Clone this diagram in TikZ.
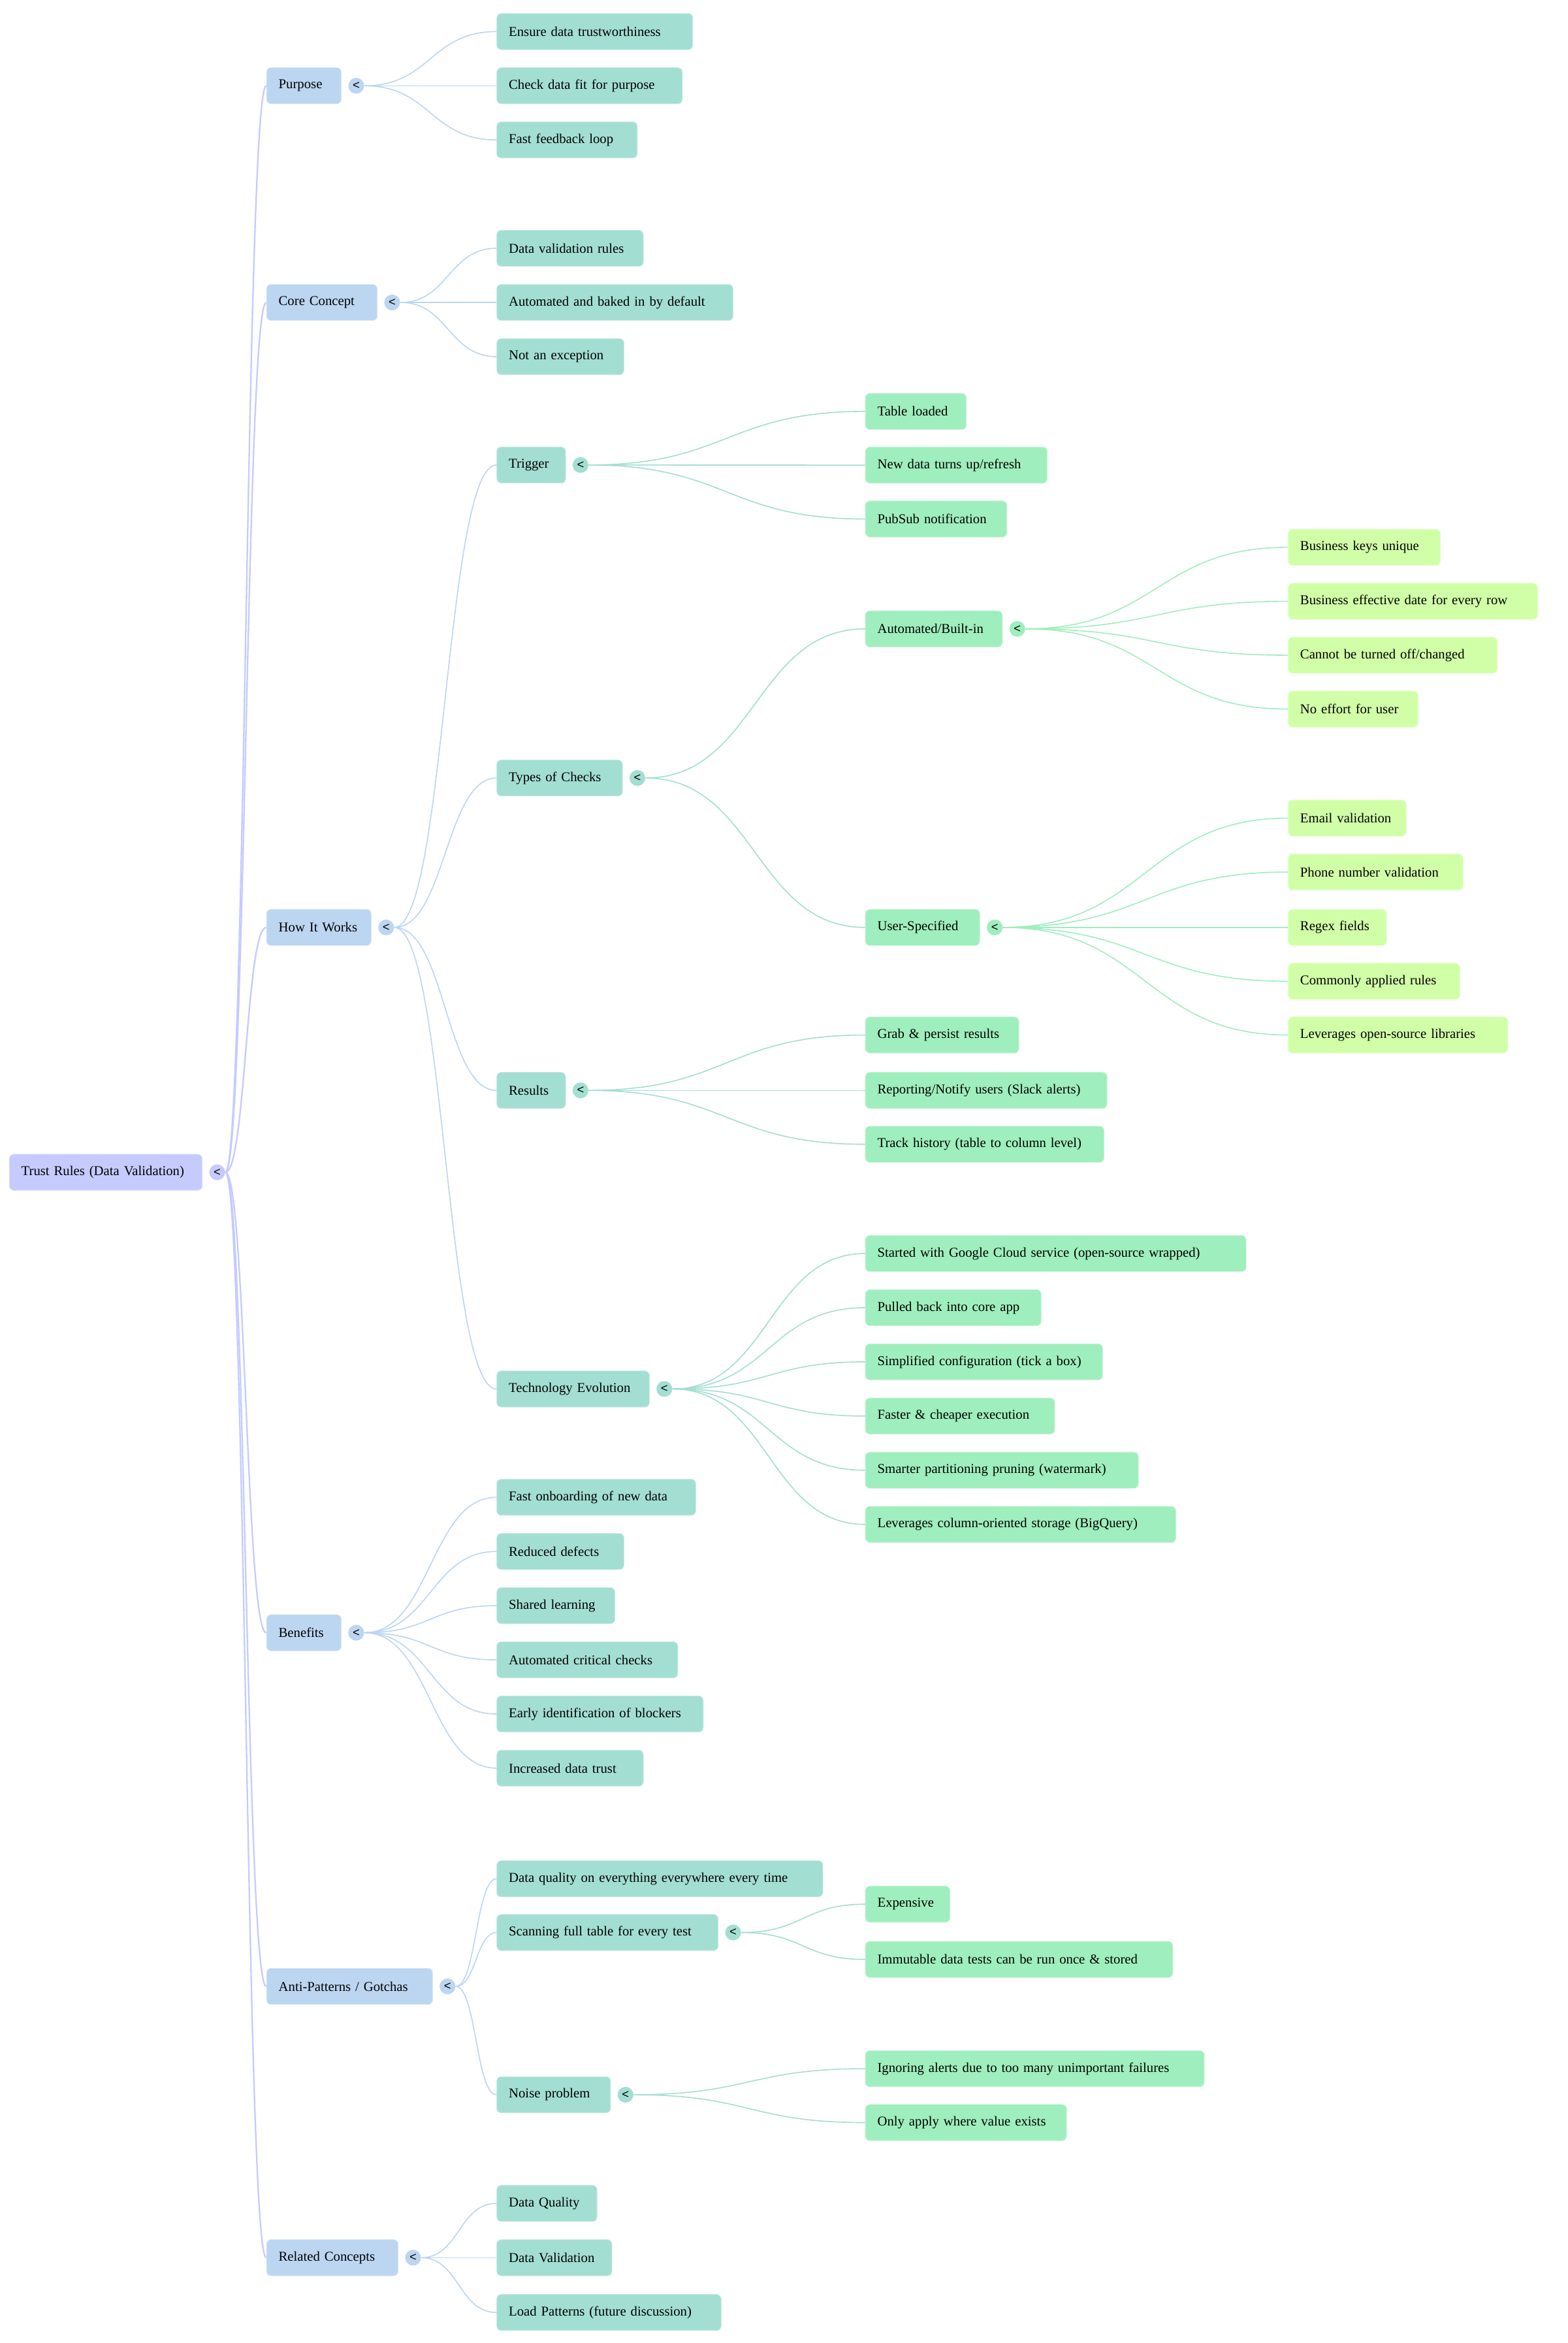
\documentclass[tikz,border=0pt]{standalone}
\usepackage{fontspec}
\setmainfont{Liberation Serif}
\setsansfont{Liberation Sans}
\usetikzlibrary{positioning,calc}
\definecolor{cRoot}{HTML}{C5CBFF}
\definecolor{cOne}{HTML}{BCD5F0}
\definecolor{cTwo}{HTML}{A3DED2}
\definecolor{cThree}{HTML}{9FEEBD}
\definecolor{cFour}{HTML}{D1FFA8}
\tikzset{
	mm/.style={rounded corners=3pt, anchor=west, draw=#1!60!white, fill=#1, line width=0.4pt,
		inner xsep=8pt, inner ysep=0pt, minimum height=24pt, align=left, font=\fontsize{9}{11}\selectfont},
	ind/.style={circle, fill=#1, inner sep=0pt, minimum size=10.5pt, font=\sffamily\fontsize{8}{8}\selectfont},
	br/.style={draw=#1, line width=0.7pt,
		to path={let \p1=(\tikztostart), \p2=(\tikztotarget) in
			.. controls ({(\x1+\x2)/2},\y1) and ({(\x1+\x2)/2},\y2) .. (\tikztotarget)}}
}
\begin{document}
\begin{tikzpicture}[x=1pt,y=-1pt]
	\path[use as bounding box, fill=white] (0,0) rectangle (1042,1557);
	% root
	\node (root) at (6,779)	[mm=cRoot, text width=112.2pt]	{Trust Rules (Data Validation)};
	\node (rootI) [ind=cRoot, right=4.3pt of root] {<};
	% first level
	\node (pur) at (177,57)		[mm=cOne, text width=33.6pt]	{Purpose};
	\node (core) at (177,201)	[mm=cOne, text width=57.5pt]	{Core Concept};
	\node (how) at (177,616.3)	[mm=cOne, text width=53.5pt]	{How It Works};
	\node (ben) at (177,1085)	[mm=cOne, text width=33.6pt]	{Benefits};
	\node (anti) at (177,1320)	[mm=cOne, text width=94.3pt]	{Anti-Patterns / Gotchas};
	\node (rel) at (177,1500.3)	[mm=cOne, text width=71.4pt]	{Related Concepts};
	\node (purI) [ind=cOne, right=4.3pt of pur] {<};
	\node (coreI) [ind=cOne, right=4.3pt of core] {<};
	\node (howI) [ind=cOne, right=4.3pt of how] {<};
	\node (benI) [ind=cOne, right=4.3pt of ben] {<};
	\node (antiI) [ind=cOne, right=4.3pt of anti] {<};
	\node (relI) [ind=cOne, right=4.3pt of rel] {<};
	% second level
	\node (pur1) at (330,21)	[mm=cTwo, text width=114.2pt]	{Ensure data trustworthiness};
	\node (pur2) at (330,57)	[mm=cTwo, text width=107.3pt]	{Check data fit for purpose};
	\node (pur3) at (330,93)	[mm=cTwo, text width=77.4pt]	{Fast feedback loop};
	\node (core1) at (330,165)	[mm=cTwo, text width=81.4pt]	{Data validation rules};
	\node (core2) at (330,201)	[mm=cTwo, text width=141pt]	{Automated and baked in by default};
	\node (core3) at (330,237)	[mm=cTwo, text width=68.5pt]	{Not an exception};
	\node (trig) at (330,309)	[mm=cTwo, text width=29.7pt]	{Trigger};
	\node (types) at (330,517)	[mm=cTwo, text width=67.5pt]	{Types of Checks};
	\node (res) at (330,724.6)	[mm=cTwo, text width=29.7pt]	{Results};
	\node (tech) at (330,923)	[mm=cTwo, text width=85.4pt]	{Technology Evolution};
	\node (ben1) at (330,995)	[mm=cTwo, text width=116.2pt]	{Fast onboarding of new data};
	\node (ben2) at (330,1031)	[mm=cTwo, text width=68.5pt]	{Reduced defects};
	\node (ben3) at (330,1067)	[mm=cTwo, text width=62.5pt]	{Shared learning};
	\node (ben4) at (330,1103)	[mm=cTwo, text width=104.3pt]	{Automated critical checks};
	\node (ben5) at (330,1139)	[mm=cTwo, text width=121.2pt]	{Early identification of blockers};
	\node (ben6) at (330,1175)	[mm=cTwo, text width=81.4pt]	{Increased data trust};
	\node (anti1) at (330,1248.5)	[mm=cTwo, text width=200.7pt]	{Data quality on everything everywhere every time};
	\node (scan) at (330,1284.2)	[mm=cTwo, text width=131.1pt]	{Scanning full table for every test};
	\node (noise) at (330,1392)	[mm=cTwo, text width=59.6pt]	{Noise problem};
	\node (rel1) at (330,1464.2)	[mm=cTwo, text width=50.6pt]	{Data Quality};
	\node (rel2) at (330,1500.3)	[mm=cTwo, text width=60.5pt]	{Data Validation};
	\node (rel3) at (330,1536.7)	[mm=cTwo, text width=133.1pt]	{Load Patterns (future discussion)};
	\node (trigI) [ind=cTwo, right=4.3pt of trig] {<};
	\node (typesI) [ind=cTwo, right=4.3pt of types] {<};
	\node (resI) [ind=cTwo, right=4.3pt of res] {<};
	\node (techI) [ind=cTwo, right=4.3pt of tech] {<};
	\node (scanI) [ind=cTwo, right=4.3pt of scan] {<};
	\node (noiseI) [ind=cTwo, right=4.3pt of noise] {<};
	% third level
	\node (trig1) at (575,273.4)	[mm=cThree, text width=51.1pt]	{Table loaded};
	\node (trig2) at (575,309.1)	[mm=cThree, text width=104.8pt]	{New data turns up/refresh};
	\node (trig3) at (575,344.9)	[mm=cThree, text width=78pt]	{PubSub notification};
	\node (auto) at (575,417.9)	[mm=cThree, text width=75pt]	{Automated/Built-in};
	\node (user) at (575,616.3)	[mm=cThree, text width=60pt]	{User-Specified};
	\node (res1) at (575,687.8)	[mm=cThree, text width=86pt]	{Grab \& persist results};
	\node (res2) at (575,724.6)	[mm=cThree, text width=144.6pt]	{Reporting/Notify users (Slack alerts)};
	\node (res3) at (575,760.4)	[mm=cThree, text width=142.6pt]	{Track history (table to column level)};
	\node (tech1) at (575,833)	[mm=cThree, text width=237pt]	{Started with Google Cloud service (open-source wrapped)};
	\node (tech2) at (575,869)	[mm=cThree, text width=100.8pt]	{Pulled back into core app};
	\node (tech3) at (575,905)	[mm=cThree, text width=141.6pt]	{Simplified configuration (tick a box)};
	\node (tech4) at (575,941)	[mm=cThree, text width=109.8pt]	{Faster \& cheaper execution};
	\node (tech5) at (575,977)	[mm=cThree, text width=165.4pt]	{Smarter partitioning pruning (watermark)};
	\node (tech6) at (575,1013)	[mm=cThree, text width=190.3pt]	{Leverages column-oriented storage (BigQuery)};
	\node (scan1) at (575,1265.4)	[mm=cThree, text width=40.2pt]	{Expensive};
	\node (scan2) at (575,1302.1)	[mm=cThree, text width=188.3pt]	{Immutable data tests can be run once \& stored};
	\node (noise1) at (575,1374.7)	[mm=cThree, text width=209.2pt]	{Ignoring alerts due to too many unimportant failures};
	\node (noise2) at (575,1410.5)	[mm=cThree, text width=117.7pt]	{Only apply where value exists};
	\node (autoI) [ind=cThree, right=4.3pt of auto] {<};
	\node (userI) [ind=cThree, right=4.3pt of user] {<};
	% fourth level
	\node (auto1) at (856,363.7)	[mm=cFour, text width=85.2pt]	{Business keys unique};
	\node (auto2) at (856,399.6)	[mm=cFour, text width=149.8pt]	{Business effective date for every row};
	\node (auto3) at (856,435.4)	[mm=cFour, text width=123pt]	{Cannot be turned off/changed};
	\node (auto4) at (856,471.2)	[mm=cFour, text width=70.3pt]	{No effort for user};
	\node (user1) at (856,543.7)	[mm=cFour, text width=62.4pt]	{Email validation};
	\node (user2) at (856,579.5)	[mm=cFour, text width=100.1pt]	{Phone number validation};
	\node (user3) at (856,616.3)	[mm=cFour, text width=49.4pt]	{Regex fields};
	\node (user4) at (856,652.1)	[mm=cFour, text width=98.1pt]	{Commonly applied rules};
	\node (user5) at (856,687.8)	[mm=cFour, text width=130pt]	{Leverages open-source libraries};
	% branches
	\draw[br=cRoot, line width=1pt] (rootI.east) to (pur.west);
	\draw[br=cRoot, line width=1pt] (rootI.east) to (core.west);
	\draw[br=cRoot, line width=1pt] (rootI.east) to (how.west);
	\draw[br=cRoot, line width=1pt] (rootI.east) to (ben.west);
	\draw[br=cRoot, line width=1pt] (rootI.east) to (anti.west);
	\draw[br=cRoot, line width=1pt] (rootI.east) to (rel.west);
	\draw[br=cOne] (purI.east) to (pur1.west);
	\draw[br=cOne] (purI.east) to (pur2.west);
	\draw[br=cOne] (purI.east) to (pur3.west);
	\draw[br=cOne] (coreI.east) to (core1.west);
	\draw[br=cOne] (coreI.east) to (core2.west);
	\draw[br=cOne] (coreI.east) to (core3.west);
	\draw[br=cOne] (howI.east) to (trig.west);
	\draw[br=cOne] (howI.east) to (types.west);
	\draw[br=cOne] (howI.east) to (res.west);
	\draw[br=cOne] (howI.east) to (tech.west);
	\draw[br=cOne] (benI.east) to (ben1.west);
	\draw[br=cOne] (benI.east) to (ben2.west);
	\draw[br=cOne] (benI.east) to (ben3.west);
	\draw[br=cOne] (benI.east) to (ben4.west);
	\draw[br=cOne] (benI.east) to (ben5.west);
	\draw[br=cOne] (benI.east) to (ben6.west);
	\draw[br=cOne] (antiI.east) to (anti1.west);
	\draw[br=cOne] (antiI.east) to (scan.west);
	\draw[br=cOne] (antiI.east) to (noise.west);
	\draw[br=cOne] (relI.east) to (rel1.west);
	\draw[br=cOne] (relI.east) to (rel2.west);
	\draw[br=cOne] (relI.east) to (rel3.west);
	\draw[br=cTwo] (trigI.east) to (trig1.west);
	\draw[br=cTwo] (trigI.east) to (trig2.west);
	\draw[br=cTwo] (trigI.east) to (trig3.west);
	\draw[br=cTwo] (typesI.east) to (auto.west);
	\draw[br=cTwo] (typesI.east) to (user.west);
	\draw[br=cTwo] (resI.east) to (res1.west);
	\draw[br=cTwo] (resI.east) to (res2.west);
	\draw[br=cTwo] (resI.east) to (res3.west);
	\draw[br=cTwo] (techI.east) to (tech1.west);
	\draw[br=cTwo] (techI.east) to (tech2.west);
	\draw[br=cTwo] (techI.east) to (tech3.west);
	\draw[br=cTwo] (techI.east) to (tech4.west);
	\draw[br=cTwo] (techI.east) to (tech5.west);
	\draw[br=cTwo] (techI.east) to (tech6.west);
	\draw[br=cTwo] (scanI.east) to (scan1.west);
	\draw[br=cTwo] (scanI.east) to (scan2.west);
	\draw[br=cTwo] (noiseI.east) to (noise1.west);
	\draw[br=cTwo] (noiseI.east) to (noise2.west);
	\draw[br=cThree] (autoI.east) to (auto1.west);
	\draw[br=cThree] (autoI.east) to (auto2.west);
	\draw[br=cThree] (autoI.east) to (auto3.west);
	\draw[br=cThree] (autoI.east) to (auto4.west);
	\draw[br=cThree] (userI.east) to (user1.west);
	\draw[br=cThree] (userI.east) to (user2.west);
	\draw[br=cThree] (userI.east) to (user3.west);
	\draw[br=cThree] (userI.east) to (user4.west);
	\draw[br=cThree] (userI.east) to (user5.west);
\end{tikzpicture}
\end{document}
